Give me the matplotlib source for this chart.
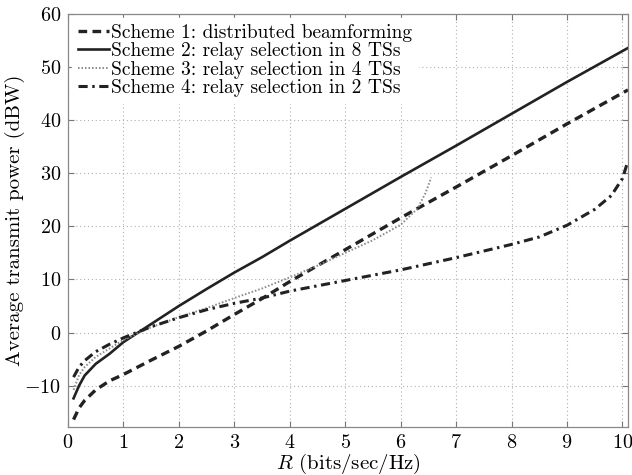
import numpy as np
import matplotlib
matplotlib.use('Agg')
import matplotlib.pyplot as plt

# data
# R in bits/sec/Hz, power in dBW
r1 = [0.1, 0.2, 0.3, 0.5, 0.75, 1.0, 1.5, 2.0, 2.5, 3.0, 3.5, 4.0, 5.0, 6.0, 7.0, 8.0, 9.0, 10.1]
p1 = [-16.4, -14.2, -12.8, -10.8, -9.1, -7.9, -5.2, -2.6, 0.3, 3.4, 6.4, 9.6, 15.6, 21.6, 27.4, 33.3, 39.3, 45.7]

r2 = [0.1, 0.2, 0.3, 0.5, 0.75, 1.0, 1.25, 1.5, 2.0, 2.5, 3.0, 3.5, 4.0, 5.0, 6.0, 7.0, 8.0, 9.0, 10.1]
p2 = [-12.4, -10.0, -8.1, -5.9, -4.0, -1.8, -0.1, 1.6, 5.0, 8.2, 11.3, 14.2, 17.3, 23.3, 29.3, 35.2, 41.2, 47.2, 53.6]

r3 = [0.1, 0.2, 0.3, 0.5, 0.75, 1.0, 1.5, 2.0, 2.5, 3.0, 3.5, 4.0, 4.5, 5.0, 5.5, 6.0, 6.3, 6.45, 6.55]
p3 = [-10.8, -8.0, -6.5, -4.6, -3.0, -1.4, 1.0, 2.9, 4.6, 6.5, 8.3, 10.4, 12.6, 15.0, 17.4, 20.3, 23.3, 26.3, 29.2]

r4 = [0.1, 0.2, 0.3, 0.5, 0.75, 1.0, 1.5, 2.0, 2.5, 3.0, 3.5, 4.0, 5.0, 6.0, 7.0, 8.0, 8.5, 9.0, 9.5, 9.8, 10.0, 10.1]
p4 = [-8.4, -6.5, -5.3, -3.6, -2.2, -1.0, 1.1, 2.8, 4.3, 5.5, 6.5, 7.8, 9.8, 11.8, 14.1, 16.6, 18.0, 20.2, 23.2, 25.8, 29.0, 32.3]

labels = ['Scheme 1: distributed beamforming',
          'Scheme 2: relay selection in 8 TSs',
          'Scheme 3: relay selection in 4 TSs',
          'Scheme 4: relay selection in 2 TSs']

plt.rcParams['font.family'] = 'serif'
plt.rcParams['font.serif'] = ['cmr10']
plt.rcParams['mathtext.fontset'] = 'cm'
plt.rcParams['axes.formatter.use_mathtext'] = True
plt.rcParams['font.size'] = 14.5

fig = plt.figure(figsize=(6.32, 4.75), dpi=100)
ax = fig.add_axes([0.1076, 0.101, 0.886, 0.8695])

ax.plot(r1, p1, color='#222222', lw=2.4, linestyle=(0, (2.6, 1.6)), label=labels[0])
ax.plot(r2, p2, color='#222222', lw=1.9, linestyle='-', label=labels[1])
ax.plot(r3, p3, color='#8a8a8a', lw=1.4, linestyle=(0, (0.8, 1.0)), label=labels[2])
ax.plot(r4, p4, color='#222222', lw=2.2, linestyle=(0, (3.0, 1.5, 0.8, 1.5)), label=labels[3])

ax.set_xlim(0, 10.1)
ax.set_ylim(-17.8, 60)
ax.set_xticks(np.arange(0, 11, 1))
ax.set_yticks(np.arange(-10, 61, 10))
ax.grid(True, color='#b0b0b0', linestyle=(0, (1, 2.5)), linewidth=0.8)
ax.tick_params(direction='in', top=True, right=True, length=4, color='#777777',
               pad=5, labelsize=14.5)
for s in ax.spines.values():
    s.set_color('#888888')
    s.set_linewidth(0.9)

ax.set_xlabel(r'$R$ (bits/sec/Hz)', labelpad=0, fontsize=15)
ax.set_ylabel('Average transmit power (dBW)', labelpad=-1, fontsize=15)

leg = ax.legend(loc='upper left', frameon=True, fancybox=False, handlelength=1.6,
                handletextpad=0.1, labelspacing=0.02, borderpad=0.3,
                borderaxespad=0.2, fontsize=14)
leg.get_frame().set_edgecolor('white')
leg.get_frame().set_alpha(1)

plt.savefig('out.png', dpi=100)
